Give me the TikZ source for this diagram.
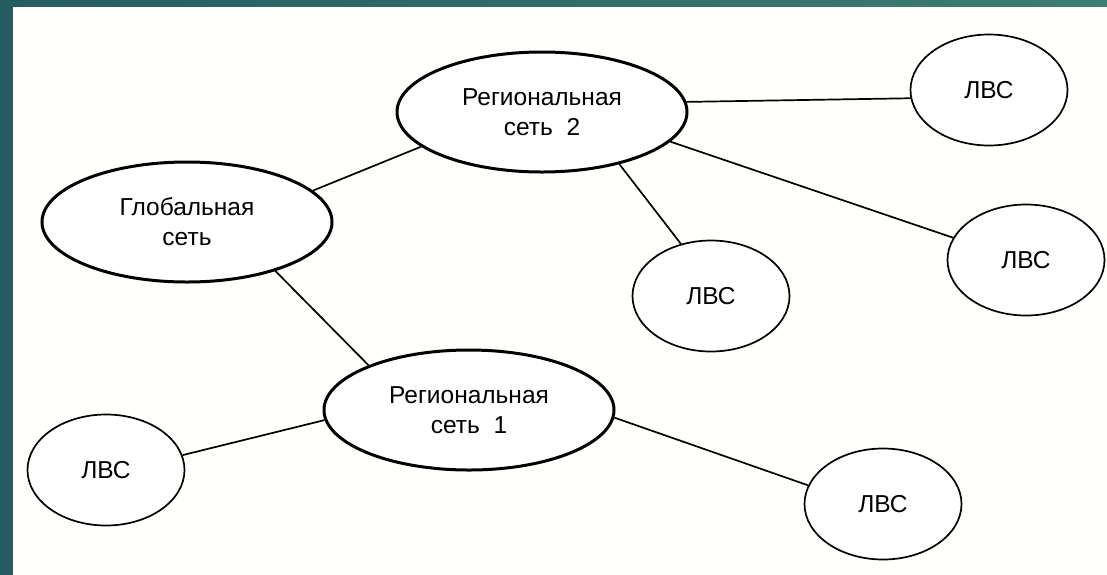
\documentclass[tikz,border=0pt]{standalone}
\usepackage{fontspec}
\setmainfont{Liberation Sans}
\usetikzlibrary{shapes.geometric}
\definecolor{tealL}{RGB}{36,92,96}
\definecolor{tealR}{RGB}{60,126,112}
\definecolor{paper}{RGB}{255,255,252}
\tikzset{
  netbig/.style={ellipse, draw=black, line width=3pt, fill=white, inner sep=0pt,
    minimum width=290pt, minimum height=120pt, align=center,
    font=\fontsize{24.5pt}{30pt}\selectfont},
  lanbox/.style={ellipse, draw=black, line width=1.7pt, fill=white, inner sep=0pt,
    minimum width=157pt, minimum height=111pt,
    font=\fontsize{24.5pt}{30pt}\selectfont},
  link/.style={draw=black, line width=1.7pt}
}
\begin{document}
\begin{tikzpicture}[x=1pt,y=-1pt]
\useasboundingbox (0,0) rectangle (1107,574);
\shade[left color=tealL, right color=tealR] (0,0) rectangle (1107,574);
\fill[paper] (13,7) rectangle (1112,579);

\node[netbig] (glob) at (187,222) {Глобальная\\сеть};
\node[netbig] (reg2) at (542,112) {Региональная\\сеть~~2};
\node[netbig] (reg1) at (469,410) {Региональная\\сеть~~1};
\node[lanbox] (lanTR) at (989,90) {ЛВС};
\node[lanbox] (lanR) at (1026,260) {ЛВС};
\node[lanbox] (lanM) at (711,296) {ЛВС};
\node[lanbox] (lanL) at (106,470) {ЛВС};
\node[lanbox] (lanBR) at (883,504) {ЛВС};

\draw[link] (glob.14) -- (reg2.196);
\draw[link] (glob.-29) -- (reg1.156);
\draw[link] (reg1.184) -- (lanL.11);
\draw[link] (reg1.-3) -- (lanBR.166);
\draw[link] (reg2.4) -- (lanTR.186);
\draw[link] (reg2.-13) -- (lanR.163);
\draw[link] (reg2.-34) -- (lanM.120);
\end{tikzpicture}
\end{document}
